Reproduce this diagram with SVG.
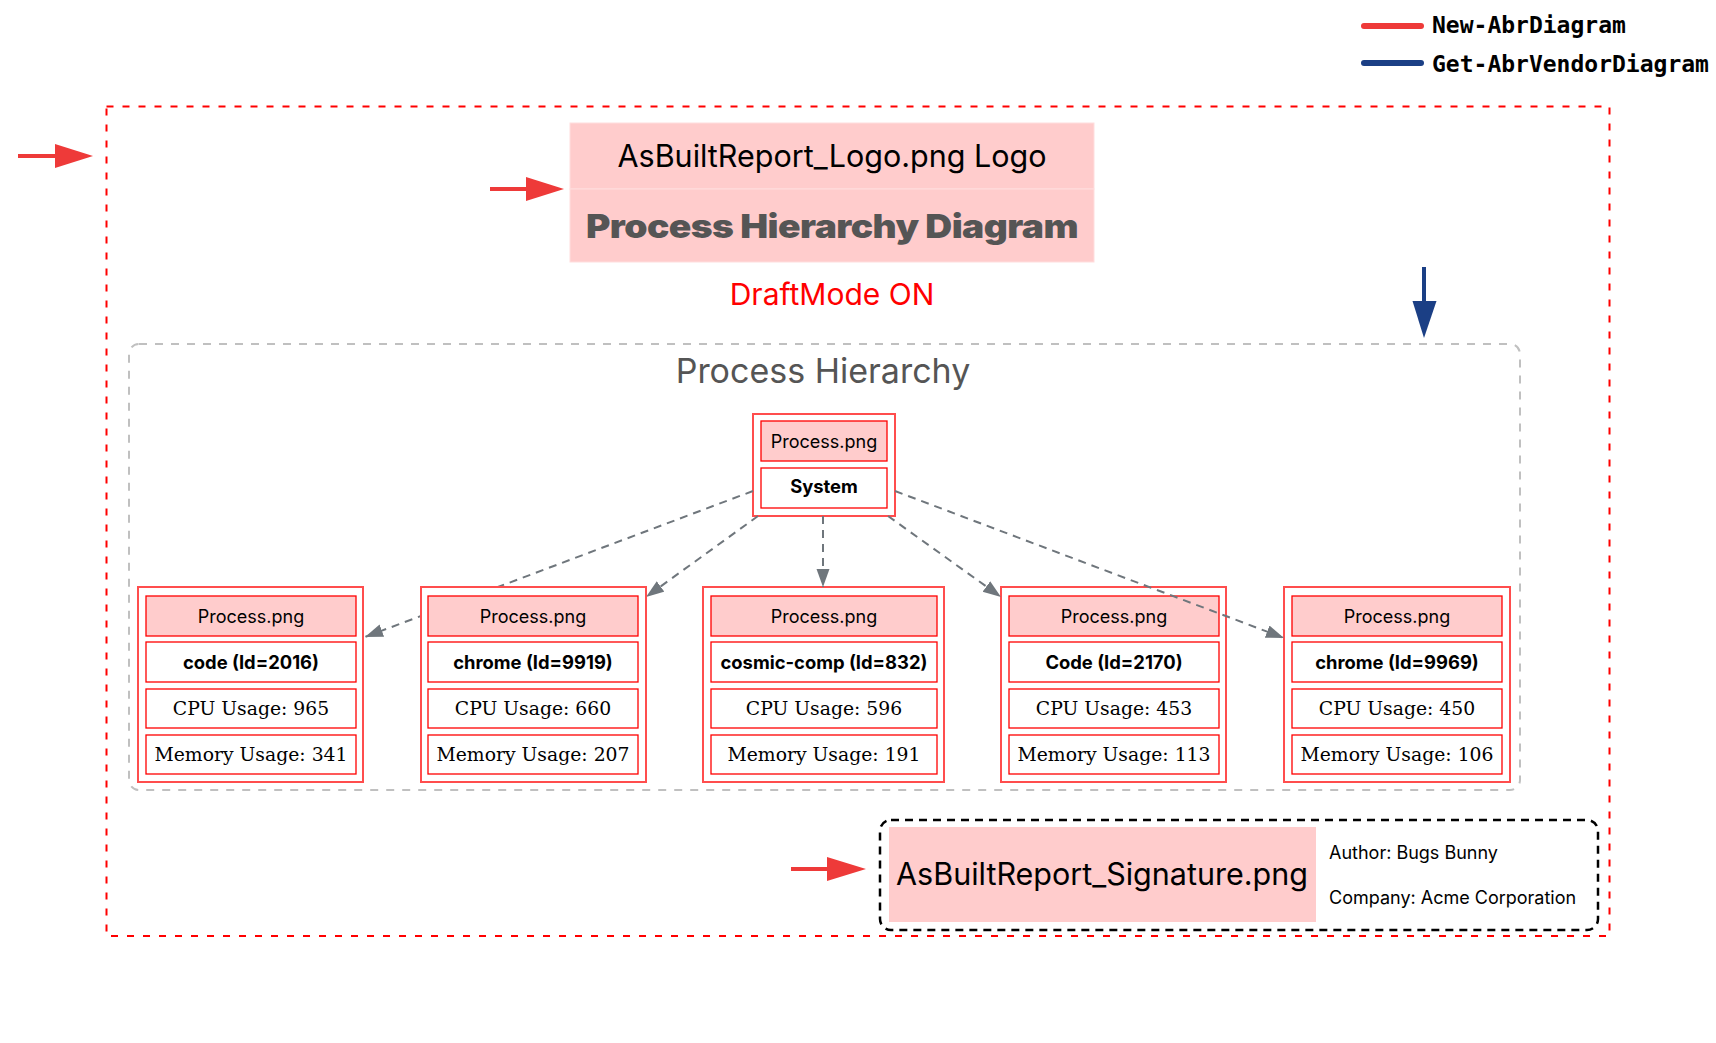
<svg xmlns="http://www.w3.org/2000/svg" width="1716" height="1043" viewBox="0 0 1716 1043">
<style>
.sans{font-family:Inter,"Noto Sans","Liberation Sans",sans-serif}
.mono{font-family:"DejaVu Sans Mono","Liberation Mono",monospace;font-weight:bold;font-size:23px;fill:#000}
.serif{font-family:"DejaVu Serif","Liberation Serif",serif;font-size:18.8px;fill:#000}
.outer{fill:#fff;stroke:#ff4d4d;stroke-width:2}
.cell{fill:#fff;stroke:#ff0000;stroke-width:1.3}
.head{fill:#ffcccc;stroke:#ff0000;stroke-width:1.3}
.hdr{font-family:Inter,"Noto Sans",sans-serif;font-size:18px;fill:#000}
.name{font-family:Inter,"Noto Sans",sans-serif;font-size:18.4px;font-weight:bold;fill:#000}
.edge{fill:none;stroke:#6f767c;stroke-width:2;stroke-dasharray:8,6}
.redarrow{stroke:#ee3a39;stroke-width:4;fill:none}
</style>
<defs>
<marker id="gh" markerUnits="userSpaceOnUse" markerWidth="20" markerHeight="14" refX="18" refY="6.5" orient="auto">
<path d="M0,0 L18,6.5 L0,13 Z" fill="#6f767c"/>
</marker>
</defs>
<rect width="1716" height="1043" fill="#fff"/>

<g id="legend">
<line x1="1364" y1="26" x2="1421" y2="26" stroke="#ee3a39" stroke-width="6" stroke-linecap="round"/>
<text class="mono" x="1432" y="33">New-AbrDiagram</text>
<line x1="1364" y1="63" x2="1421" y2="63" stroke="#1b3f85" stroke-width="6" stroke-linecap="round"/>
<text class="mono" x="1432" y="72">Get-AbrVendorDiagram</text>
</g>

<g id="main-frame">
<rect x="106.5" y="106.5" width="1503" height="829.5" fill="none" stroke="#ff0000" stroke-width="2" stroke-dasharray="7,9"/>
</g>

<g id="pointer-arrows">
<line class="redarrow" x1="18" y1="156" x2="57" y2="156"/>
<polygon points="55,144 93,156 55,168" fill="#ee3a39"/>
<line class="redarrow" x1="490" y1="189" x2="528" y2="189"/>
<polygon points="526,177 564,189 526,201" fill="#ee3a39"/>
<line class="redarrow" x1="791" y1="869" x2="829" y2="869"/>
<polygon points="827,857 866,869 827,881" fill="#ee3a39"/>
<line x1="1424" y1="267" x2="1424" y2="303" stroke="#1b3f85" stroke-width="4"/>
<polygon points="1412.5,301 1436.5,301 1424,338" fill="#1b3f85"/>
</g>

<g id="logo">
<rect x="570" y="123" width="524" height="66" fill="#ffcccc" stroke="#ffdede" stroke-width="1"/>
<rect x="570" y="189" width="524" height="73" fill="#ffcccc" stroke="#ffdede" stroke-width="1"/>
<text class="sans" x="832" y="167" font-size="30.5" text-anchor="middle" fill="#000">AsBuiltReport_Logo.png Logo</text>
<text class="sans" x="832" y="238" font-size="33" font-weight="900" text-anchor="middle" fill="#555555" textLength="492" lengthAdjust="spacingAndGlyphs" letter-spacing="-0.5">Process Hierarchy Diagram</text>
</g>

<g id="draftmode">
<text class="sans" x="832" y="305" font-size="30" text-anchor="middle" fill="#ff0000">DraftMode ON</text>
</g>

<g id="cluster-process-hierarchy">
<rect x="129" y="344" width="1391" height="446" rx="10" ry="10" fill="none" stroke="#c0c0c0" stroke-width="2" stroke-dasharray="8,8"/>
<text class="sans" x="823" y="383" font-size="34" text-anchor="middle" fill="#555555">Process Hierarchy</text>
</g>

<g id="node-code-2016">
<rect class="outer" x="138" y="587" width="225" height="195"/>
<rect class="head" x="146" y="596" width="210" height="40"/>
<rect class="cell" x="146" y="642" width="210" height="40"/>
<rect class="cell" x="146" y="689" width="210" height="39"/>
<rect class="cell" x="146" y="735" width="210" height="39"/>
<text class="hdr" x="251" y="623" text-anchor="middle">Process.png</text>
<text class="name" x="251" y="669" text-anchor="middle">code (Id=2016)</text>
<text class="serif" x="251" y="715" text-anchor="middle">CPU Usage: 965</text>
<text class="serif" x="251" y="761" text-anchor="middle">Memory Usage: 341</text>
</g>

<g id="node-cosmic-comp-832">
<rect class="outer" x="703" y="587" width="241" height="195"/>
<rect class="head" x="711" y="596" width="226" height="40"/>
<rect class="cell" x="711" y="642" width="226" height="40"/>
<rect class="cell" x="711" y="689" width="226" height="39"/>
<rect class="cell" x="711" y="735" width="226" height="39"/>
<text class="hdr" x="824" y="623" text-anchor="middle">Process.png</text>
<text class="name" x="824" y="669" text-anchor="middle">cosmic-comp (Id=832)</text>
<text class="serif" x="824" y="715" text-anchor="middle">CPU Usage: 596</text>
<text class="serif" x="824" y="761" text-anchor="middle">Memory Usage: 191</text>
</g>

<g id="node-Code-2170">
<rect class="outer" x="1001" y="587" width="225" height="195"/>
<rect class="head" x="1009" y="596" width="210" height="40"/>
<rect class="cell" x="1009" y="642" width="210" height="40"/>
<rect class="cell" x="1009" y="689" width="210" height="39"/>
<rect class="cell" x="1009" y="735" width="210" height="39"/>
<text class="hdr" x="1114" y="623" text-anchor="middle">Process.png</text>
<text class="name" x="1114" y="669" text-anchor="middle">Code (Id=2170)</text>
<text class="serif" x="1114" y="715" text-anchor="middle">CPU Usage: 453</text>
<text class="serif" x="1114" y="761" text-anchor="middle">Memory Usage: 113</text>
</g>

<g id="node-chrome-9969">
<rect class="outer" x="1284" y="587" width="226" height="195"/>
<rect class="head" x="1292" y="596" width="210" height="40"/>
<rect class="cell" x="1292" y="642" width="210" height="40"/>
<rect class="cell" x="1292" y="689" width="210" height="39"/>
<rect class="cell" x="1292" y="735" width="210" height="39"/>
<text class="hdr" x="1397" y="623" text-anchor="middle">Process.png</text>
<text class="name" x="1397" y="669" text-anchor="middle">chrome (Id=9969)</text>
<text class="serif" x="1397" y="715" text-anchor="middle">CPU Usage: 450</text>
<text class="serif" x="1397" y="761" text-anchor="middle">Memory Usage: 106</text>
</g>

<g id="node-system">
<rect class="outer" x="753" y="414" width="142" height="102"/>
<rect class="head" x="761" y="421" width="126" height="40"/>
<rect class="cell" x="761" y="468" width="126" height="40"/>
<text class="hdr" x="824" y="448" text-anchor="middle">Process.png</text>
<text class="name" x="824" y="493" text-anchor="middle">System</text>
</g>

<g id="connectors">
<line class="edge" x1="753" y1="491" x2="365" y2="637" marker-end="url(#gh)"/>
<line class="edge" x1="758" y1="516" x2="646" y2="597" marker-end="url(#gh)"/>
<line class="edge" x1="823" y1="516" x2="823" y2="587" marker-end="url(#gh)"/>
<line class="edge" x1="888" y1="516" x2="1001" y2="597" marker-end="url(#gh)"/>
<line class="edge" x1="895" y1="491" x2="1284" y2="638" marker-end="url(#gh)"/>
</g>

<g id="node-chrome-9919">
<rect class="outer" x="421" y="587" width="225" height="195"/>
<rect class="head" x="428" y="596" width="210" height="40"/>
<rect class="cell" x="428" y="642" width="210" height="40"/>
<rect class="cell" x="428" y="689" width="210" height="39"/>
<rect class="cell" x="428" y="735" width="210" height="39"/>
<text class="hdr" x="533" y="623" text-anchor="middle">Process.png</text>
<text class="name" x="533" y="669" text-anchor="middle">chrome (Id=9919)</text>
<text class="serif" x="533" y="715" text-anchor="middle">CPU Usage: 660</text>
<text class="serif" x="533" y="761" text-anchor="middle">Memory Usage: 207</text>
</g>

<g id="signature">
<rect x="880" y="820" width="718" height="110" rx="11" ry="11" fill="none" stroke="#000" stroke-width="2.5" stroke-dasharray="8,6"/>
<rect x="889" y="827" width="427" height="95" fill="#ffcccc"/>
<text class="sans" x="1102" y="885" font-size="30.5" text-anchor="middle" fill="#000">AsBuiltReport_Signature.png</text>
<text class="sans" x="1329" y="859" font-size="18" fill="#000">Author: Bugs Bunny</text>
<text class="sans" x="1329" y="904" font-size="18" fill="#000">Company: Acme Corporation</text>
</g>
</svg>
